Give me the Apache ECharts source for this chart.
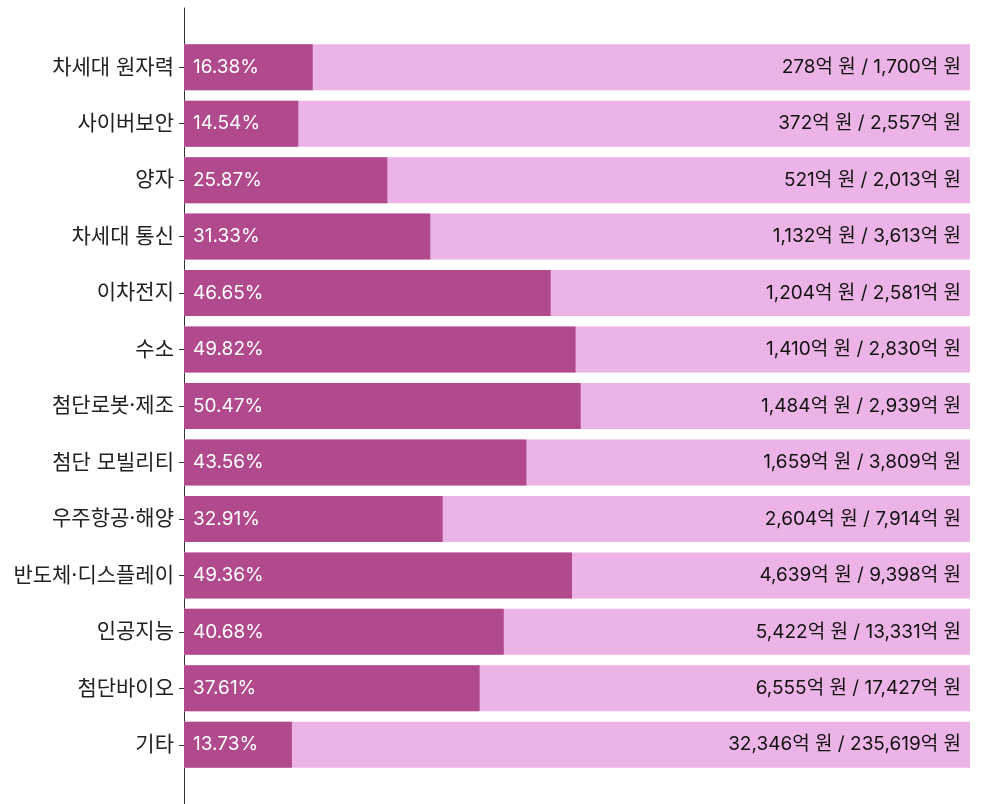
<!DOCTYPE html>
<html>
<head>
<meta charset="utf-8">
<script src="https://cdn.jsdelivr.net/npm/echarts@6/dist/echarts.min.js"></script>
<style>
  html, body { margin: 0; padding: 0; background: #fff; }
  #chart { width: 1004px; height: 804px; }
</style>
</head>
<body>
<div id="chart"></div>
<script>
// 분야별 집행 현황
var categories = ['차세대 원자력', '사이버보안', '양자', '차세대 통신', '이차전지', '수소', '첨단로봇·제조',
  '첨단 모빌리티', '우주항공·해양', '반도체·디스플레이', '인공지능', '첨단바이오', '기타'];
var rates = [16.38, 14.54, 25.87, 31.33, 46.65, 49.82, 50.47, 43.56, 32.91, 49.36, 40.68, 37.61, 13.73];
var spent = [278, 372, 521, 1132, 1204, 1410, 1484, 1659, 2604, 4639, 5422, 6555, 32346];
var budget = [1700, 2557, 2013, 3613, 2581, 2830, 2939, 3809, 7914, 9398, 13331, 17427, 235619];
var full = categories.map(function () { return 100; });

var font = 'Inter, "Noto Sans CJK KR", sans-serif';
var chart = echarts.init(document.getElementById('chart'));

var option = {
  animation: false,
  grid: [
    { left: 184, right: 34, top: 39, bottom: 31 },
    { left: 184, right: 34, top: 8, bottom: 0 }
  ],
  xAxis: [
    { type: 'value', min: 0, max: 100, show: false, gridIndex: 0 },
    { type: 'value', min: 0, max: 100, show: false, gridIndex: 1 }
  ],
  yAxis: [
    {
      type: 'category',
      gridIndex: 0,
      data: categories,
      inverse: true,
      axisLine: { show: false },
      axisTick: { show: true, length: 5, alignWithLabel: true, lineStyle: { color: '#333' } },
      axisLabel: { color: '#222', fontSize: 21, fontFamily: font, margin: 10 }
    },
    {
      type: 'value',
      gridIndex: 1,
      axisLine: { show: true, lineStyle: { color: '#333', width: 1 } },
      axisTick: { show: false },
      axisLabel: { show: false },
      splitLine: { show: false }
    }
  ],
  series: [
    {
      type: 'bar',
      data: full,
      barWidth: 46,
      barGap: '-100%',
      silent: true,
      itemStyle: { color: '#ebb3e6' },
      label: {
        show: true,
        position: 'insideRight',
        distance: 9,
        color: '#111',
        fontSize: 19,
        fontFamily: font,
        formatter: function (p) {
          var i = p.dataIndex;
          return spent[i].toLocaleString('en-US') + '억 원 / ' + budget[i].toLocaleString('en-US') + '억 원';
        }
      }
    },
    {
      type: 'bar',
      data: rates,
      barWidth: 46,
      barGap: '-100%',
      itemStyle: { color: '#b04a8c' },
      label: {
        show: true,
        position: 'insideLeft',
        distance: 9,
        color: '#fff',
        fontSize: 19,
        fontFamily: font,
        formatter: function (p) { return p.value.toFixed(2) + '%'; }
      }
    }
  ]
};

chart.setOption(option);
window.addEventListener('resize', function () { chart.resize(); });
</script>
</body>
</html>
